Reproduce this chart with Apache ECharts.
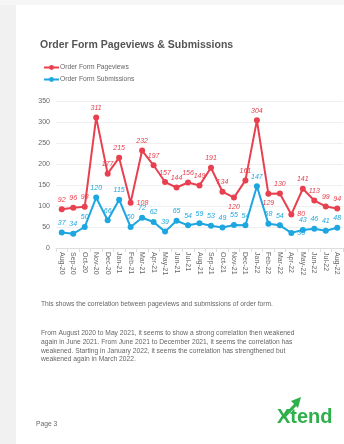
<!DOCTYPE html>
<html><head><meta charset="utf-8">
<script src="https://cdn.jsdelivr.net/npm/echarts@6/dist/echarts.min.js"></script>
<style>html,body{margin:0;padding:0;background:#fff}#c{width:344px;height:444px}</style>
</head><body><div id="c"></div>
<script>
const categories = ['Aug-20','Sep-20','Oct-20','Nov-20','Dec-20','Jan-21','Feb-21','Mar-21','Apr-21','May-21','Jun-21','Jul-21','Aug-21','Sep-21','Oct-21','Nov-21','Dec-21','Jan-22','Feb-22','Mar-22','Apr-22','May-22','Jun-22','Jul-22','Aug-22'];
const pageviews = [92,96,98,311,177,215,108,232,197,157,144,156,149,191,134,120,161,304,129,130,80,141,113,99,94];
const submissions = [37,34,50,120,66,115,50,72,62,39,65,54,59,53,49,55,54,147,58,54,36,43,46,41,48];
const yTicks = [0,50,100,150,200,250,300,350];
const pvLabelPos = {6:'right',15:'bottom',18:'bottom',20:'right'};
const subLabelPos = {20:'right'};

const chart = echarts.init(document.getElementById('c'), null, {renderer:'canvas'});
const FF = '"Liberation Sans", Arial, sans-serif';
function mk(vals, posMap){
  return vals.map((v,i)=> posMap[i] ? {value:v, label:{position:posMap[i]}} : v);
}
chart.setOption({
  animation:false,
  textStyle:{fontFamily:FF},
  graphic:[
    {type:'rect', shape:{x:0,y:0,width:16,height:444}, style:{fill:'#f1f1f1'}, z:-10},
    {type:'rect', shape:{x:0,y:0,width:344,height:5}, style:{fill:'#f6f6f6'}, z:-10},
    {type:'text', left:40, top:40, style:{text:'Order Form Pageviews & Submissions', font:'bold 10.5px '+FF, fill:'#555'}},
    {type:'text', left:41, top:301, style:{text:'This shows the correlation between pageviews and submissions of order form.', font:'6.7px '+FF, fill:'#666'}},
    {type:'text', left:41, top:329, style:{text:'From August 2020 to May 2021, it seems to show a strong correlation then weakened\nagain in June 2021. From June 2021 to December 2021, it seems the correlation has\nweakened. Starting in January 2022, it seems the correlation has strengthened but\nweakened again in March 2022.', font:'6.7px '+FF, fill:'#666', lineHeight:8.7}},
    {type:'text', left:36, top:421, style:{text:'Page 3', font:'6.7px '+FF, fill:'#666'}},
    {type:'text', left:277, top:407, style:{text:'Xtend', font:'bold 20px '+FF, fill:'#2eb04a'}},
    {type:'polyline', shape:{points:[[283,418],[297,403]]}, style:{stroke:'#2eb04a', lineWidth:3}},
    {type:'polygon', shape:{points:[[291,401],[301,397],[298,408]]}, style:{fill:'#2eb04a'}}
  ],
  legend:{
    left:38, top:59, orient:'vertical', itemWidth:15, itemHeight:6, itemGap:5,
    textStyle:{fontSize:6.7, color:'#666', padding:[0,0,0,-4]},
    data:['Order Form Pageviews','Order Form Submissions']
  },
  grid:{left:56, right:1, top:101, bottom:196, containLabel:false},
  xAxis:{
    type:'category', data:categories, boundaryGap:true,
    axisLine:{show:true, lineStyle:{color:'#ddd'}},
    axisTick:{show:true, alignWithLabel:false, length:4, lineStyle:{color:'#ddd'}},
    axisLabel:{rotate:-90, fontSize:7, color:'#666', margin:4, interval:0}
  },
  yAxis:{
    type:'value', min:0, max:350, interval:50,
    axisLine:{show:false}, axisTick:{show:false},
    axisLabel:{fontSize:7, color:'#666', margin:6, customValues:yTicks},
    splitLine:{lineStyle:{color:'#efefef'}}
  },
  series:[
    {name:'Order Form Pageviews', type:'line', data:mk(pageviews,pvLabelPos), color:'#e8404f',
     symbol:'circle', symbolSize:6, lineStyle:{width:2},
     label:{show:true, position:'top', fontSize:7, fontStyle:'italic', color:'#e8404f', distance:3}},
    {name:'Order Form Submissions', type:'line', data:mk(submissions,subLabelPos), color:'#1da6e0',
     symbol:'circle', symbolSize:6, lineStyle:{width:2},
     label:{show:true, position:'top', fontSize:7, fontStyle:'italic', color:'#1da6e0', distance:3}}
  ]
});
</script></body></html>
